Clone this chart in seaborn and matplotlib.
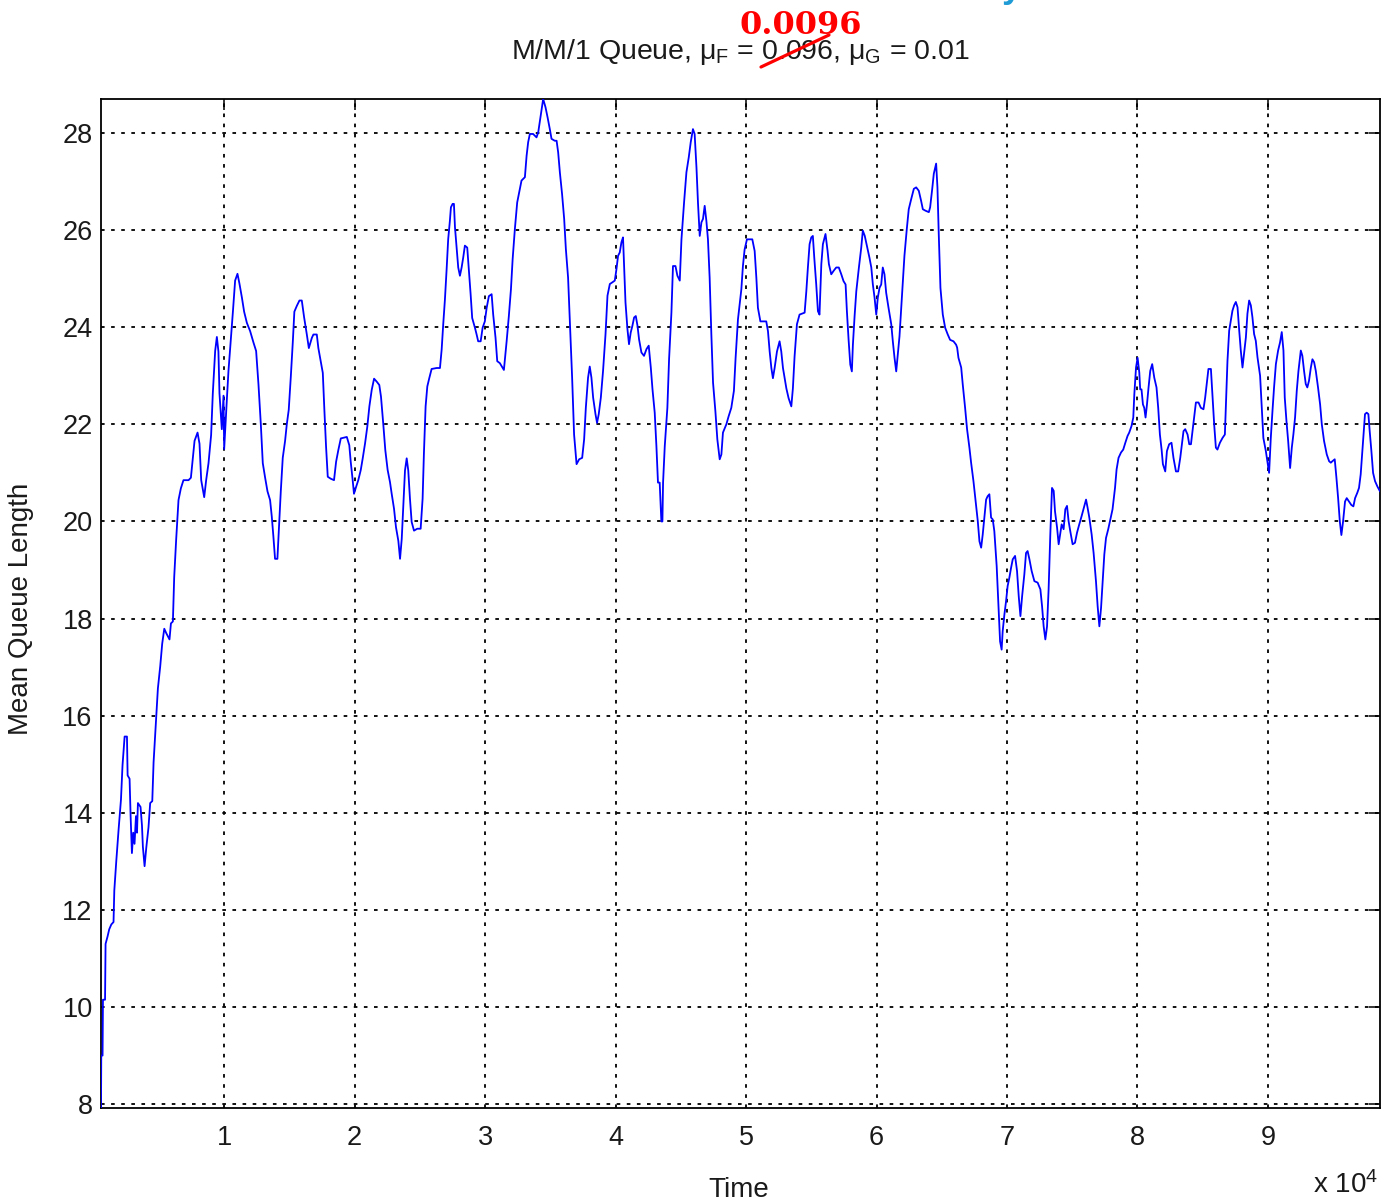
import numpy as np
import matplotlib
matplotlib.use("Agg")
import matplotlib.pyplot as plt
from matplotlib.lines import Line2D
import seaborn as sns

# Simulated mean queue length of an M/M/1 queue, sampled over time (time in units of 1e4)
time_a = [0.056, 0.058, 0.068, 0.071, 0.087, 0.091, 0.106, 0.119, 0.135, 0.152,
          0.158, 0.173, 0.191, 0.209, 0.221, 0.237, 0.255, 0.260, 0.275, 0.283,
          0.293, 0.303, 0.313, 0.324, 0.332, 0.339, 0.359, 0.370, 0.377, 0.390,
          0.403, 0.420, 0.433, 0.449, 0.459, 0.477, 0.492, 0.510, 0.525, 0.541,
          0.556, 0.581, 0.592, 0.607, 0.617, 0.632]
queue_a = [7.92, 9.00, 9.00, 10.15, 10.15, 11.30, 11.45, 11.60, 11.70, 11.75,
           12.40, 13.00, 13.66, 14.27, 14.98, 15.57, 15.57, 14.77, 14.70, 13.93,
           13.17, 13.59, 13.36, 13.93, 13.59, 14.20, 14.12, 13.74, 13.30, 12.90,
           13.28, 13.70, 14.20, 14.24, 15.04, 15.88, 16.56, 17.02, 17.48, 17.79,
           17.70, 17.57, 17.90, 17.94, 18.85, 19.62]

time_b = [0.650, 0.668, 0.688, 0.727, 0.745, 0.760, 0.773, 0.796, 0.811, 0.824,
          0.847, 0.862, 0.880, 0.900, 0.913, 0.931, 0.944, 0.956, 0.964, 0.982,
          0.995, 1.000, 1.008, 1.021, 1.033, 1.051, 1.067, 1.084, 1.102, 1.117,
          1.136, 1.153, 1.174, 1.199, 1.224, 1.245, 1.263, 1.281, 1.296, 1.314,
          1.332, 1.352, 1.365, 1.377, 1.390, 1.408, 1.421, 1.434, 1.449, 1.467,
          1.480, 1.495, 1.511, 1.526, 1.538, 1.557, 1.577, 1.595, 1.613, 1.633,
          1.649]
queue_b = [20.44, 20.68, 20.85, 20.85, 20.90, 21.31, 21.66, 21.83, 21.60, 20.85,
           20.50, 20.85, 21.20, 21.78, 22.64, 23.51, 23.80, 23.50, 22.64, 21.90,
           22.59, 21.49, 21.90, 22.53, 23.10, 23.74, 24.32, 24.96, 25.10, 24.90,
           24.61, 24.32, 24.09, 23.92, 23.69, 23.51, 22.82, 22.00, 21.20, 20.90,
           20.62, 20.44, 20.10, 19.70, 19.23, 19.23, 19.92, 20.62, 21.31, 21.66,
           22.00, 22.30, 22.99, 23.69, 24.32, 24.44, 24.55, 24.55, 24.20, 23.86,
           23.57]

time_c = [1.672, 1.684, 1.710, 1.722, 1.740, 1.756, 1.768, 1.781, 1.794, 1.817,
          1.842, 1.858, 1.875, 1.894, 1.940, 1.959, 1.970, 1.985, 1.995, 2.011,
          2.028, 2.047, 2.062, 2.080, 2.097, 2.113, 2.131, 2.149, 2.169, 2.189,
          2.202, 2.220, 2.235, 2.253, 2.271, 2.284, 2.302, 2.317, 2.335, 2.348,
          2.361, 2.373, 2.386, 2.399, 2.411, 2.424, 2.437, 2.455, 2.480, 2.506,
          2.521, 2.531, 2.544, 2.557, 2.572, 2.590, 2.629, 2.654, 2.667, 2.679,
          2.692, 2.705, 2.717, 2.730, 2.738, 2.751, 2.761, 2.769, 2.782, 2.794,
          2.807, 2.820, 2.832, 2.845, 2.863, 2.874, 2.889, 2.901, 2.922, 2.935,
          2.947, 2.966, 2.981, 2.998, 3.012, 3.029, 3.050, 3.062, 3.080, 3.093,
          3.113, 3.144, 3.165, 3.182, 3.198, 3.211, 3.228, 3.246, 3.261, 3.279]
queue_c = [23.78, 23.85, 23.85, 23.57, 23.30, 23.06, 22.30, 21.54, 20.92, 20.88,
           20.85, 21.23, 21.47, 21.71, 21.74, 21.57, 21.23, 20.85, 20.57, 20.71,
           20.85, 21.06, 21.30, 21.61, 21.95, 22.37, 22.71, 22.94, 22.88, 22.81,
           22.57, 21.99, 21.47, 21.06, 20.81, 20.57, 20.26, 19.88, 19.60, 19.23,
           19.64, 20.33, 21.05, 21.30, 21.05, 20.47, 19.99, 19.81, 19.85, 19.85,
           20.47, 21.40, 22.37, 22.78, 22.95, 23.14, 23.16, 23.16, 23.54, 24.06,
           24.57, 25.19, 25.81, 26.19, 26.47, 26.54, 26.54, 26.06, 25.64, 25.23,
           25.06, 25.23, 25.43, 25.68, 25.64, 25.23, 24.68, 24.19, 23.99, 23.85,
           23.71, 23.71, 23.99, 24.12, 24.40, 24.64, 24.68, 24.26, 23.78, 23.30,
           23.26, 23.12, 23.71, 24.23, 24.78, 25.40, 26.02, 26.57, 26.78, 27.02]

time_d = [3.305, 3.318, 3.330, 3.343, 3.368, 3.394, 3.407, 3.420, 3.433, 3.445,
          3.463, 3.479, 3.496, 3.509, 3.534, 3.548, 3.560, 3.573, 3.590, 3.606,
          3.619, 3.636, 3.649, 3.667, 3.682, 3.701, 3.721, 3.744, 3.759, 3.772,
          3.789, 3.802, 3.815, 3.828, 3.846, 3.858, 3.871, 3.887, 3.904, 3.923,
          3.938, 3.956, 3.973, 3.994, 4.007, 4.019, 4.032, 4.045, 4.057, 4.065,
          4.076, 4.091, 4.103, 4.116, 4.129, 4.142, 4.155, 4.168, 4.180, 4.198,
          4.218, 4.237, 4.254, 4.270, 4.283, 4.300, 4.313, 4.325, 4.338, 4.351,
          4.359, 4.364, 4.377, 4.397, 4.410, 4.428, 4.440, 4.459, 4.474, 4.492,
          4.505, 4.525, 4.543, 4.561, 4.576, 4.593, 4.606, 4.620, 4.632, 4.645,
          4.658, 4.670, 4.683, 4.696, 4.708, 4.721, 4.734, 4.747, 4.765, 4.780,
          4.798, 4.811, 4.823, 4.849, 4.867, 4.887, 4.907, 4.920, 4.938, 4.964,
          4.976, 4.989]
queue_d = [27.09, 27.53, 27.81, 27.98, 27.98, 27.91, 28.01, 28.25, 28.49, 28.70,
           28.53, 28.32, 28.08, 27.88, 27.84, 27.84, 27.60, 27.19, 26.74, 26.23,
           25.61, 25.02, 24.16, 22.96, 21.79, 21.18, 21.28, 21.31, 21.69, 22.34,
           22.96, 23.19, 22.96, 22.55, 22.21, 22.03, 22.21, 22.55, 23.10, 23.86,
           24.65, 24.89, 24.92, 24.96, 25.20, 25.47, 25.54, 25.75, 25.85, 25.26,
           24.51, 23.96, 23.65, 23.89, 24.03, 24.20, 24.23, 24.03, 23.75, 23.48,
           23.41, 23.55, 23.62, 23.17, 22.72, 22.24, 21.55, 20.80, 20.80, 20.00,
           20.00, 20.80, 21.55, 22.34, 23.34, 24.30, 25.26, 25.26, 25.06, 24.96,
           25.81, 26.57, 27.19, 27.50, 27.81, 28.08, 27.98, 27.29, 26.54, 25.88,
           26.16, 26.23, 26.50, 26.19, 25.81, 25.02, 23.86, 22.86, 22.27, 21.69,
           21.28, 21.38, 21.83, 22.00, 22.17, 22.34, 22.69, 23.37, 24.16, 24.78,
           25.26, 25.60]

time_e = [5.007, 5.048, 5.066, 5.079, 5.091, 5.110, 5.155, 5.168, 5.181, 5.194,
          5.206, 5.219, 5.237, 5.257, 5.270, 5.283, 5.296, 5.309, 5.326, 5.347,
          5.359, 5.372, 5.390, 5.410, 5.449, 5.462, 5.474, 5.487, 5.500, 5.512,
          5.523, 5.538, 5.551, 5.563, 5.577, 5.589, 5.609, 5.625, 5.635, 5.653,
          5.671, 5.691, 5.711, 5.730, 5.747, 5.763, 5.773, 5.786, 5.799, 5.811,
          5.819, 5.832, 5.845, 5.865, 5.883, 5.895, 5.910, 5.929, 5.946, 5.960,
          5.972, 5.985, 5.998, 6.010, 6.023, 6.036, 6.048, 6.061, 6.074, 6.092,
          6.113, 6.125, 6.138, 6.151, 6.163, 6.176, 6.189, 6.201, 6.214, 6.232,
          6.247, 6.266, 6.286, 6.304, 6.324, 6.342, 6.355, 6.375, 6.401, 6.411,
          6.427, 6.439, 6.457, 6.467, 6.477, 6.490, 6.508, 6.526, 6.546, 6.564,
          6.590, 6.610]
queue_e = [25.81, 25.81, 25.57, 25.02, 24.40, 24.12, 24.12, 23.92, 23.50, 23.16,
           22.95, 23.16, 23.50, 23.71, 23.50, 23.16, 22.95, 22.74, 22.54, 22.37,
           22.74, 23.40, 24.06, 24.26, 24.30, 24.74, 25.23, 25.71, 25.85, 25.88,
           25.43, 24.88, 24.33, 24.26, 25.30, 25.71, 25.92, 25.57, 25.30, 25.09,
           25.16, 25.23, 25.23, 25.09, 24.95, 24.88, 24.33, 23.74, 23.23, 23.09,
           23.64, 24.23, 24.74, 25.23, 25.64, 25.99, 25.88, 25.64, 25.43, 25.23,
           24.88, 24.61, 24.26, 24.61, 24.81, 24.88, 25.23, 25.09, 24.71, 24.40,
           24.06, 23.71, 23.37, 23.09, 23.43, 23.81, 24.37, 24.92, 25.47, 26.02,
           26.43, 26.64, 26.85, 26.88, 26.81, 26.60, 26.43, 26.40, 26.37, 26.47,
           26.85, 27.16, 27.37, 26.88, 25.92, 24.81, 24.26, 23.99, 23.85, 23.74,
           23.71, 23.64]

time_f = [6.618, 6.628, 6.649, 6.661, 6.679, 6.694, 6.712, 6.725, 6.743, 6.758,
          6.776, 6.789, 6.802, 6.814, 6.827, 6.840, 6.852, 6.865, 6.878, 6.891,
          6.903, 6.921, 6.934, 6.947, 6.959, 6.967, 6.980, 6.993, 7.005, 7.018,
          7.031, 7.044, 7.062, 7.077, 7.090, 7.103, 7.116, 7.133, 7.146, 7.158,
          7.172, 7.189, 7.210, 7.235, 7.256, 7.269, 7.281, 7.294, 7.307, 7.319,
          7.332, 7.345, 7.358, 7.368, 7.384, 7.396, 7.409, 7.419, 7.434, 7.447,
          7.460, 7.472, 7.485, 7.503, 7.521, 7.537, 7.554, 7.572, 7.593, 7.606,
          7.618, 7.631, 7.649, 7.664, 7.682, 7.695, 7.708, 7.721, 7.733, 7.746,
          7.759, 7.776, 7.792, 7.809, 7.828, 7.840, 7.855, 7.874, 7.891, 7.907,
          7.924, 7.937, 7.955, 7.968, 7.976, 7.989, 8.001, 8.014, 8.021, 8.031,
          8.042, 8.052, 8.062, 8.073, 8.085, 8.098, 8.113, 8.129, 8.146, 8.159,
          8.172, 8.185, 8.195]
queue_f = [23.58, 23.37, 23.17, 22.82, 22.34, 21.90, 21.52, 21.21, 20.83, 20.45,
           20.01, 19.59, 19.46, 19.73, 20.08, 20.45, 20.52, 20.56, 20.08, 20.04,
           19.80, 19.08, 18.29, 17.53, 17.36, 17.74, 18.08, 18.36, 18.67, 18.84,
           19.04, 19.22, 19.29, 18.98, 18.46, 18.05, 18.46, 18.91, 19.35, 19.39,
           19.22, 18.98, 18.77, 18.74, 18.60, 18.25, 17.84, 17.57, 17.84, 18.60,
           19.73, 20.69, 20.63, 20.21, 19.87, 19.53, 19.77, 19.94, 19.84, 20.25,
           20.32, 20.01, 19.80, 19.53, 19.56, 19.77, 19.94, 20.11, 20.32, 20.45,
           20.28, 20.08, 19.73, 19.35, 18.77, 18.25, 17.84, 18.22, 18.74, 19.32,
           19.66, 19.84, 20.04, 20.25, 20.69, 21.07, 21.31, 21.42, 21.48, 21.62,
           21.76, 21.83, 21.97, 22.14, 22.62, 23.17, 23.37, 23.07, 22.72, 22.72,
           22.41, 22.34, 22.14, 22.41, 22.76, 23.10, 23.24, 22.96, 22.76, 22.34,
           21.79, 21.48, 21.18]

time_g = [8.213, 8.226, 8.243, 8.261, 8.276, 8.295, 8.312, 8.328, 8.341, 8.353,
          8.366, 8.384, 8.397, 8.410, 8.422, 8.435, 8.448, 8.468, 8.486, 8.506,
          8.519, 8.532, 8.544, 8.563, 8.575, 8.588, 8.601, 8.613, 8.632, 8.652,
          8.670, 8.680, 8.690, 8.703, 8.716, 8.728, 8.741, 8.754, 8.767, 8.780,
          8.792, 8.805, 8.818, 8.831, 8.843, 8.856, 8.869, 8.881, 8.894, 8.907,
          8.920, 8.940, 8.953, 8.965, 8.984, 8.996, 9.009, 9.022, 9.035, 9.047,
          9.061, 9.078, 9.093, 9.106, 9.119, 9.129, 9.142, 9.155, 9.170, 9.183,
          9.195, 9.208, 9.221, 9.234, 9.252, 9.264, 9.277, 9.290, 9.302, 9.315,
          9.329, 9.341, 9.354, 9.367, 9.384, 9.400, 9.413, 9.430, 9.451, 9.469,
          9.482, 9.494, 9.512, 9.525, 9.538, 9.551, 9.563, 9.576, 9.591, 9.604,
          9.622, 9.639, 9.655, 9.668, 9.685, 9.698, 9.711, 9.729, 9.744, 9.757,
          9.770, 9.780, 9.793, 9.806, 9.821, 9.839, 9.859]
queue_g = [21.03, 21.45, 21.59, 21.62, 21.31, 21.03, 21.03, 21.31, 21.59, 21.86,
           21.90, 21.79, 21.59, 21.59, 21.86, 22.14, 22.45, 22.45, 22.34, 22.31,
           22.55, 22.86, 23.14, 23.14, 22.59, 22.00, 21.52, 21.48, 21.62, 21.72,
           21.79, 22.52, 23.31, 23.93, 24.14, 24.34, 24.45, 24.52, 24.41, 23.93,
           23.52, 23.17, 23.48, 23.79, 24.28, 24.55, 24.45, 24.21, 23.86, 23.72,
           23.38, 23.00, 22.34, 21.72, 21.45, 21.24, 21.00, 21.72, 22.28, 22.76,
           23.24, 23.52, 23.69, 23.90, 23.52, 22.55, 22.07, 21.66, 21.10, 21.52,
           21.79, 22.14, 22.69, 23.10, 23.52, 23.41, 23.10, 22.83, 22.76, 22.90,
           23.17, 23.34, 23.28, 23.10, 22.76, 22.41, 22.00, 21.66, 21.38, 21.24,
           21.21, 21.24, 21.28, 20.90, 20.48, 20.00, 19.72, 20.00, 20.41, 20.48,
           20.41, 20.34, 20.31, 20.48, 20.59, 20.69, 20.97, 21.66, 22.21, 22.24,
           22.21, 21.86, 21.45, 21.00, 20.83, 20.72, 20.62]

x_tick_values = [1, 2, 3, 4, 5, 6, 7, 8, 9]
y_tick_values = [8, 10, 12, 14, 16, 18, 20, 22, 24, 26, 28]

title_text = r"M/M/1 Queue, $\mu_{\mathrm{F}}$ = 0.096, $\mu_{\mathrm{G}}$ = 0.01"
correction_text = "0.0096"

time = np.concatenate([time_a, time_b, time_c, time_d, time_e, time_f, time_g]) * 1e4
queue = np.concatenate([queue_a, queue_b, queue_c, queue_d, queue_e, queue_f, queue_g])

sns.set_style("white")
plt.rcParams["font.family"] = ["Liberation Sans", "DejaVu Sans"]
plt.rcParams["mathtext.fontset"] = "custom"
plt.rcParams["mathtext.rm"] = "Liberation Sans"
plt.rcParams["mathtext.it"] = "Liberation Sans"
plt.rcParams["mathtext.bf"] = "Liberation Sans:bold"

W, H = 1382, 1200
fig = plt.figure(figsize=(W / 100, H / 100), dpi=100)
fig.patch.set_facecolor("white")
ax = fig.add_axes([101 / W, 92 / H, 1279 / W, 1009 / H])
ax.set_facecolor("white")

sns.lineplot(x=time, y=queue, ax=ax, color="#0000ff", linewidth=1.3,
             estimator=None, sort=False, zorder=3)

ax.set_xlim(time.min(), time.max())
ax.set_ylim(queue.min(), queue.max())

ax.set_xticks([v * 1e4 for v in x_tick_values])
ax.set_xticklabels([str(v) for v in x_tick_values])
ax.set_yticks(y_tick_values)
ax.set_yticklabels([str(v) for v in y_tick_values])

ax.tick_params(axis="both", direction="in", length=8, width=1.1, color="black",
               labelsize=19.5, labelcolor="#1a1a1a", top=True, right=True)
ax.tick_params(axis="x", pad=12)
ax.tick_params(axis="y", pad=6)

ax.grid(True, color="black", linestyle=(0, (2.0, 3.6)), linewidth=1.3, zorder=1)
ax.set_axisbelow(True)
for s in ax.spines.values():
    s.set_color("black")
    s.set_linewidth(1.3)
    s.set_visible(True)

ax.set_xlabel("Time", fontsize=20, color="#1a1a1a")
ax.set_ylabel("Mean Queue Length", fontsize=20, color="#1a1a1a")
ax.xaxis.set_label_coords(0.499, -0.068)
ax.xaxis.label.set_va("top")
ax.yaxis.set_label_coords(-0.052, 0.4945)

# axis multiplier below the right end of the x axis
fig.text(1378 / W, 1 - 1193 / H, r"x 10$^{4}$", ha="right", va="baseline",
         fontsize=20, color="#1a1a1a")

ax.set_title(title_text, fontsize=20.5, color="#1a1a1a", pad=29)

# hand correction of the first service rate
fig.text(801 / W, 1 - 34 / H, correction_text, ha="center", va="baseline",
         fontsize=23, fontweight="bold", family="DejaVu Serif", color="#ff0000")
fig.add_artist(Line2D([761 / W, 829 / W], [1 - 67 / H, 1 - 35 / H],
                      color="#ff0000", linewidth=2.3, solid_capstyle="round"))

# clipped fragment of a caption above the figure
fig.text(1012 / W, 1 + 3 / H, "y", ha="center", va="baseline",
         fontsize=26, fontweight="bold", color="#1f9bd6")

fig.savefig("out.png", dpi=100, facecolor="white")
